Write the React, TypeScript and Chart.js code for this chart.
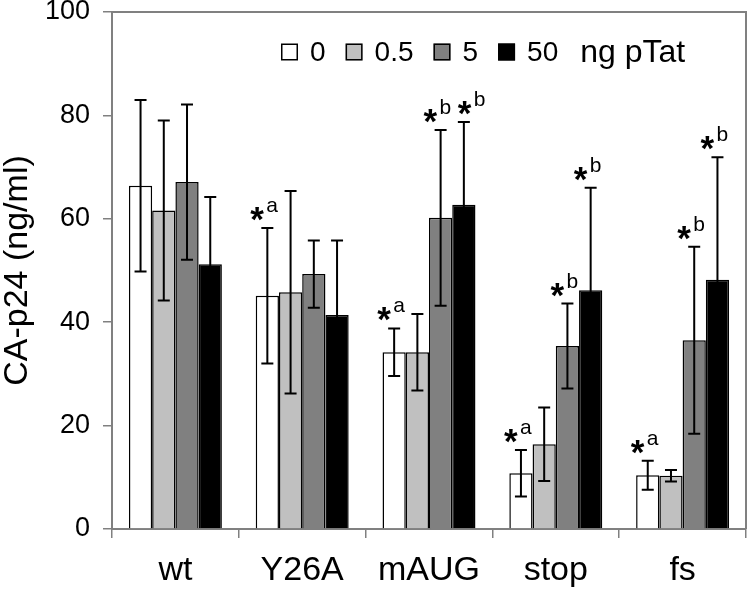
import React, { useEffect, useRef } from 'react';
import { Chart, registerables } from 'chart.js';

Chart.register(...registerables);

const FONT = '"Liberation Sans", Arial, Helvetica, sans-serif';

const categories = ['wt', 'Y26A', 'mAUG', 'stop', 'fs'];
const seriesLabels = ['0', '0.5', '5', '50'];
const legendUnit = 'ng pTat';
const yTitle = 'CA-p24 (ng/ml)';

const values0 = [66.4, 45.1, 34.2, 10.8, 10.4];
const values05 = [61.6, 45.8, 34.2, 16.4, 10.3];
const values5 = [67.1, 49.3, 60.2, 35.4, 36.5];
const values50 = [51.2, 41.4, 62.7, 46.2, 48.2];

const errors0 = [16.6, 13.1, 4.6, 4.5, 2.8];
const errors05 = [17.4, 19.6, 7.4, 7.1, 1.1];
const errors5 = [15.0, 6.5, 17.0, 8.2, 18.1];
const errors50 = [13.0, 14.4, 16.0, 19.8, 23.7];

const seriesColors = ['#ffffff', '#c0c0c0', '#808080', '#000000'];

const yMin = 0;
const yMax = 100;
const yStep = 20;

// significance marks: category, series index, letter
const sigCategories = ['Y26A', 'mAUG', 'mAUG', 'mAUG', 'stop', 'stop', 'stop', 'fs', 'fs', 'fs'];
const sigSeries = [0, 0, 2, 3, 0, 2, 3, 0, 2, 3];
const sigLetters = ['a', 'a', 'b', 'b', 'a', 'b', 'b', 'a', 'b', 'b'];

const valueSets = [values0, values05, values5, values50];
const errorSets = [errors0, errors05, errors5, errors50];

const errorBarPlugin = {
  id: 'errorBars',
  afterDatasetsDraw(chart: any) {
    const ctx = chart.ctx;
    const yScale = chart.scales.y;
    ctx.save();
    ctx.strokeStyle = '#000';
    ctx.lineWidth = 2;
    chart.data.datasets.forEach((ds: any, i: number) => {
      const meta = chart.getDatasetMeta(i);
      meta.data.forEach((el: any, j: number) => {
        const v = valueSets[i][j];
        const e = errorSets[i][j];
        const yTop = yScale.getPixelForValue(v + e);
        const yBot = yScale.getPixelForValue(v - e);
        const x = el.x;
        ctx.beginPath();
        ctx.moveTo(x, yTop);
        ctx.lineTo(x, yBot);
        ctx.moveTo(x - 6, yTop);
        ctx.lineTo(x + 6, yTop);
        ctx.moveTo(x - 6, yBot);
        ctx.lineTo(x + 6, yBot);
        ctx.stroke();
      });
    });
    ctx.restore();
  },
};

const annotationPlugin = {
  id: 'sigMarks',
  afterDatasetsDraw(chart: any) {
    const ctx = chart.ctx;
    const yScale = chart.scales.y;
    ctx.save();
    ctx.fillStyle = '#000';
    ctx.textAlign = 'left';
    ctx.textBaseline = 'alphabetic';
    // size the asterisk so its glyph is about 14px tall
    ctx.font = `bold 40px ${FONT}`;
    const m0 = ctx.measureText('*');
    const h0 = m0.actualBoundingBoxAscent + m0.actualBoundingBoxDescent;
    const astSize = h0 > 0 ? (40 * 14) / h0 : 44;
    let prev: { ci: number; x: number; y: number } | null = null;
    sigCategories.forEach((cat, k) => {
      const ci = categories.indexOf(cat);
      const si = sigSeries[k];
      const el = chart.getDatasetMeta(si).data[ci];
      const capY = yScale.getPixelForValue(valueSets[si][ci] + errorSets[si][ci]);
      let baseX = el.x;
      // avoid collision with the previous mark in the same group
      if (prev && prev.ci === ci && Math.abs(prev.y - capY) < 20 && baseX - prev.x < 30) {
        baseX += 11;
      }
      ctx.font = `bold ${astSize}px ${FONT}`;
      const m = ctx.measureText('*');
      const gw = m.actualBoundingBoxRight + m.actualBoundingBoxLeft;
      const gh = m.actualBoundingBoxAscent + m.actualBoundingBoxDescent;
      const cx = baseX - 10;
      const cy = capY - 14;
      ctx.fillText('*', cx - gw / 2 + m.actualBoundingBoxLeft, cy + gh / 2 - m.actualBoundingBoxDescent);
      ctx.font = `21px ${FONT}`;
      ctx.fillText(sigLetters[k], baseX - 1, capY - 16);
      prev = { ci, x: baseX, y: capY };
    });
    ctx.restore();
  },
};

const legendPlugin = {
  id: 'inlineLegend',
  afterDraw(chart: any) {
    const ctx = chart.ctx;
    const area = chart.chartArea;
    ctx.save();
    let x = area.left + 169;
    const cy = area.top + 40;
    const box = 17;
    ctx.textBaseline = 'middle';
    ctx.textAlign = 'left';
    chart.data.datasets.forEach((ds: any, i: number) => {
      ctx.fillStyle = ds.backgroundColor;
      ctx.fillRect(x, cy - box / 2, box, box);
      ctx.strokeStyle = '#000';
      ctx.lineWidth = 1.5;
      ctx.strokeRect(x + 0.75, cy - box / 2 + 0.75, box - 1.5, box - 1.5);
      x += box + 12;
      ctx.fillStyle = '#000';
      ctx.font = `28px ${FONT}`;
      ctx.fillText(ds.label, x, cy + 1);
      x += ctx.measureText(ds.label).width;
      x += i < chart.data.datasets.length - 1 ? 20 : 22;
    });
    ctx.font = `32px ${FONT}`;
    ctx.fillText(legendUnit, x, cy + 1);
    ctx.restore();
  },
};

const framePlugin = {
  id: 'frame',
  afterDraw(chart: any) {
    const ctx = chart.ctx;
    const a = chart.chartArea;
    ctx.save();
    ctx.strokeStyle = '#808080';
    ctx.lineWidth = 2;
    ctx.beginPath();
    ctx.moveTo(a.left, a.top);
    ctx.lineTo(a.right, a.top);
    ctx.lineTo(a.right, a.bottom);
    ctx.stroke();
    ctx.restore();
  },
};

export default function App() {
  const ref = useRef<HTMLCanvasElement>(null);
  useEffect(() => {
    document.body.style.margin = '0';
    const canvas = ref.current;
    if (!canvas) return;
    const chart = new Chart(canvas, {
      type: 'bar',
      data: {
        labels: categories,
        datasets: seriesLabels.map((label, i) => ({
          label,
          data: valueSets[i],
          backgroundColor: seriesColors[i],
          borderColor: '#000',
          borderWidth: 1.5,
          categoryPercentage: 0.733,
          barPercentage: 1.0,
        })),
      },
      options: {
        responsive: false,
        animation: false,
        layout: { padding: { top: 12, right: 4, left: 0, bottom: 0 } },
        plugins: { legend: { display: false }, tooltip: { enabled: false } },
        scales: {
          x: {
            grid: {
              display: true,
              drawOnChartArea: false,
              drawTicks: true,
              tickLength: 9,
              color: '#808080',
              lineWidth: 1.5,
              offset: true,
            },
            border: { display: true, color: '#808080', width: 2 },
            ticks: { color: '#000', font: { family: FONT, size: 34 }, padding: 12, maxRotation: 0 },
            afterFit: (s: any) => {
              s.height = 62;
              s.paddingLeft = 0;
              s.paddingRight = 0;
            },
          },
          y: {
            min: yMin,
            max: yMax,
            ticks: { stepSize: yStep, color: '#000', font: { family: FONT, size: 27 }, padding: 13 },
            grid: {
              display: true,
              drawOnChartArea: false,
              drawTicks: true,
              tickLength: 9,
              color: '#808080',
              lineWidth: 1.5,
            },
            border: { display: true, color: '#808080', width: 2 },
            title: {
              display: true,
              text: yTitle,
              color: '#000',
              font: { family: FONT, size: 34, lineHeight: 1.03 },
              padding: 0,
            },
            afterFit: (s: any) => {
              s.width = 112;
              s.paddingTop = 0;
              s.paddingBottom = 0;
            },
          },
        },
      },
      plugins: [errorBarPlugin, annotationPlugin, legendPlugin, framePlugin],
    } as any);
    return () => chart.destroy();
  }, []);
  return <canvas ref={ref} width={750} height={591} style={{ display: 'block' }} />;
}
